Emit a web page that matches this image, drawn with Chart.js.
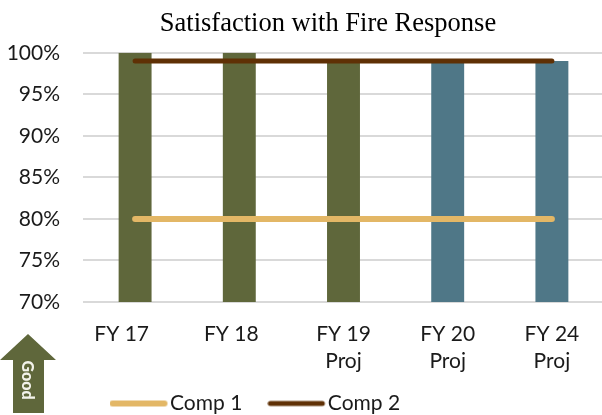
<!DOCTYPE html>
<html><head><meta charset="utf-8">
<style>html,body{margin:0;padding:0;background:#fff}#w{position:relative;width:602px;height:415px;overflow:hidden}
#c{position:absolute;left:0;top:0}#good{position:absolute;left:0;top:334px}</style>
<script src="https://cdn.jsdelivr.net/npm/chart.js@4"></script></head>
<body><div id="w"><canvas id="c" width="610" height="415"></canvas>
<svg id="good" width="57" height="81"><polygon points="28,0 56,26 44,26 44,79 13,79 13,26 0,26" fill="#5f673b"/>
<text transform="translate(28.5,46) rotate(90)" text-anchor="middle" dominant-baseline="central" font-family="Lato" font-weight="900" font-size="16" fill="#f2f2ea">Good</text></svg></div>
<script>
const categories=[["FY 17     "],["FY 18   "],["FY 19","Proj"],["FY 20","Proj"],["FY 24","Proj"]];
const barValues=[100,100,99,99,99];
const barColors=["#5f673b","#5f673b","#5f673b","#4f7787","#4f7787"];
const comp1=[80,80,80,80,80];
const comp2=[99,99,99,99,99];
const tickLabels=[70,75,80,85,90,95,100];
const FONT='Lato';
function swatch(color,w){
 const s=document.createElement('canvas');s.width=60;s.height=8;
 const g=s.getContext('2d');g.strokeStyle=color;g.lineWidth=w;g.lineCap='round';
 g.beginPath();g.moveTo(3,4);g.lineTo(55,4);g.stroke();return s;
}
const place={id:'place',afterLayout(ch){
 ch.titleBlock.left=46;ch.titleBlock.right=610;
 ch.legend.left=84.5;ch.legend.top=358;
 ch.scales.x.bottom=388;
}};
new Chart(document.getElementById('c'),{
 plugins:[place],
 data:{labels:categories,datasets:[
  {type:'line',label:'Comp 1',data:comp1,borderColor:'#e3b766',backgroundColor:'#e3b766',borderWidth:6,borderCapStyle:'round',pointRadius:0,order:0},
  {type:'line',label:'Comp 2',data:comp2,borderColor:'#5f3005',backgroundColor:'#5f3005',borderWidth:5,borderCapStyle:'round',pointRadius:0,order:1},
  {type:'bar',label:'Score',data:barValues,backgroundColor:barColors,barPercentage:1,categoryPercentage:0.316,order:2}
 ]},
 options:{responsive:false,animation:false,
  layout:{padding:{left:0,right:6,top:0,bottom:0}},
  scales:{
   x:{afterFit:s=>{s.height=47},grid:{display:false},border:{display:false},ticks:{color:'#1a1a1a',font:{family:FONT,size:21,lineHeight:1.28},padding:11,maxRotation:0,autoSkip:false}},
   y:{min:70,max:100,afterFit:s=>{s.width=83},afterBuildTicks:a=>{a.ticks=tickLabels.map(v=>({value:v}))},
      grid:{color:'#d9d9d9',lineWidth:2,drawTicks:false},border:{display:false},
      ticks:{color:'#1a1a1a',font:{family:FONT,size:21},padding:23,callback:v=>v+'%'}}
  },
  plugins:{
   title:{display:true,text:'Satisfaction with Fire Response',color:'#000',font:{family:'Liberation Serif',size:26.5,weight:'normal'},padding:{top:8,bottom:13}},
   legend:{display:true,position:'bottom',align:'start',labels:{
     color:'#1a1a1a',font:{family:FONT,size:21},usePointStyle:true,pointStyleWidth:40,padding:35,
     filter:i=>i.text!=='Score',
     generateLabels:ch=>ch.data.datasets.map((d,i)=>({text:d.label,datasetIndex:i,fontColor:'#1a1a1a',lineWidth:0,pointStyle:d.type==='line'?swatch(d.borderColor,d.borderWidth):'rect'}))
   }},
   tooltip:{enabled:false}
  }
 }
});
</script></body></html>
